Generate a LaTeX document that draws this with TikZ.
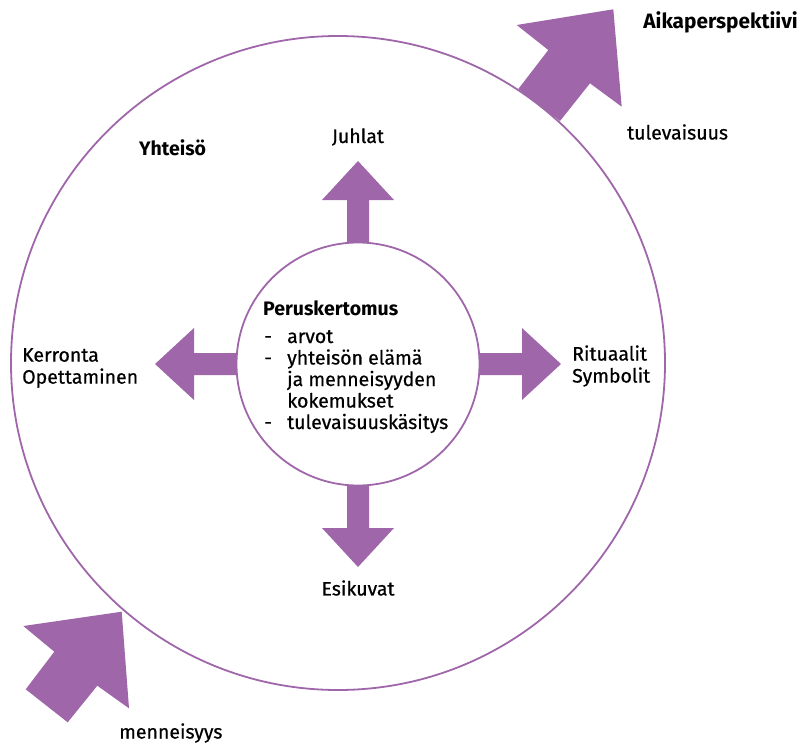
\documentclass[tikz,border=0pt]{standalone}
\usepackage{fontspec}
\setmainfont{Fira Sans}
\newfontfamily\medfont{Fira Sans}[FakeBold=0.6]
\definecolor{purp}{RGB}{160,102,170}
\begin{document}
\begin{tikzpicture}[x=1pt,y=-1pt,
  lbl/.style={font=\medfont\fontsize{19.5}{22}\selectfont, inner sep=0},
  lblb/.style={font=\fontsize{19.5}{22}\selectfont\bfseries, inner sep=0},
  ring/.style={circle, draw=purp, line width=1.8pt, inner sep=0},
  blockarrow/.style={fill=purp}]
\useasboundingbox (0,0) rectangle (803,745);
% outer circle
\node[ring, minimum size=654pt] (outer) at (338,363) {};
% big time arrows
\fill[blockarrow] (516.7,25) -- (613.3,9.3) -- (621.7,106.7) -- (590,83.3) -- (560,121) -- (518.3,89) -- (548.3,50) -- cycle;
\fill[blockarrow] (23.3,626) -- (121.7,611.7) -- (129,708.3) -- (97.3,685.7) -- (67.7,722.3) -- (25.7,689.3) -- (54.3,651.7) -- cycle;
% inner circle centre
\coordinate (c) at (358,364);
\foreach \a in {0,90,180,270}{
  \fill[blockarrow, shift={(c)}, rotate=\a] (110,-11) -- (164,-11) -- (164,-36) -- (203,0) -- (164,36) -- (164,11) -- (110,11) -- cycle;
}
\node[ring, fill=white, minimum size=243pt] (inner) at (c) {};
% texts
\node[lblb, font=\fontsize{20.8}{24}\selectfont\bfseries, anchor=east] (aika) at (798,22) {Aikaperspektiivi};
\node[lbl, anchor=west] (tul) at (627,132) {tulevaisuus};
\node[lbl, anchor=west] (men) at (119,733) {menneisyys};
\node[lblb, anchor=west] (yht) at (139,148) {Yhteisö};
\node[lbl] (juh) at (358,137) {Juhlat};
\node[lbl] (esi) at (358,588) {Esikuvat};
\node[lbl, anchor=west, align=left] (ker) at (22,368) {Kerronta\\Opettaminen};
\node[lbl, anchor=west, align=left] (rit) at (572,366) {Rituaalit\\Symbolit};
% core text
\node[lblb, anchor=base west] (t0) at (263,315) {Peruskertomus};
\node[lbl, anchor=base west] (d1) at (264,343) {-};
\node[lbl, anchor=base west] (t1) at (287,343) {arvot};
\node[lbl, anchor=base west] (d2) at (264,364.5) {-};
\node[lbl, anchor=base west] (t2) at (287,364.5) {yhteisön elämä};
\node[lbl, anchor=base west] (t3) at (287,386) {ja menneisyyden};
\node[lbl, anchor=base west] (t4) at (287,407.5) {kokemukset};
\node[lbl, anchor=base west] (d5) at (264,429) {-};
\node[lbl, anchor=base west] (t5) at (287,429) {tulevaisuuskäsitys};
\end{tikzpicture}
\end{document}
